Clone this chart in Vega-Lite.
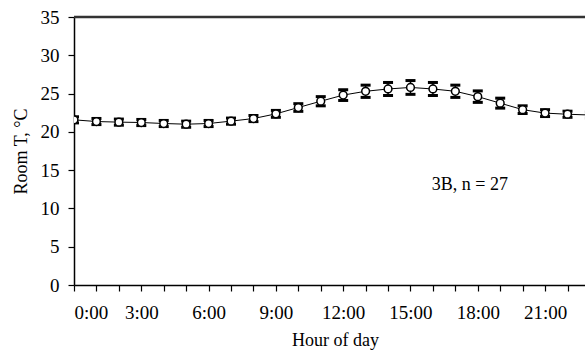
{
  "$schema": "https://vega.github.io/schema/vega-lite/v6.json",
  "autosize": {"type": "none"},
  "width": 511,
  "height": 268,
  "padding": {"left": 74, "top": 17, "right": 0, "bottom": 66},
  "background": "white",
  "config": {
    "view": {"stroke": null},
    "font": "Liberation Serif",
    "axis": {
      "labelFont": "Liberation Serif",
      "titleFont": "Liberation Serif",
      "labelFontSize": 19,
      "titleFontSize": 18,
      "titleFontWeight": "normal",
      "labelColor": "black",
      "titleColor": "black",
      "domainColor": "black",
      "tickColor": "black",
      "domainWidth": 1.5,
      "tickWidth": 1.2,
      "labelOverlap": false,
      "grid": false
    }
  },
  "datasets": {
    "series": [
      {"hour": 0, "temp": 21.57, "lo": 21.17, "hi": 21.97},
      {"hour": 1, "temp": 21.35, "lo": 20.95, "hi": 21.75},
      {"hour": 2, "temp": 21.27, "lo": 20.87, "hi": 21.67},
      {"hour": 3, "temp": 21.22, "lo": 20.82, "hi": 21.62},
      {"hour": 4, "temp": 21.09, "lo": 20.69, "hi": 21.49},
      {"hour": 5, "temp": 21.0, "lo": 20.6, "hi": 21.4},
      {"hour": 6, "temp": 21.09, "lo": 20.69, "hi": 21.49},
      {"hour": 7, "temp": 21.4, "lo": 21.0, "hi": 21.8},
      {"hour": 8, "temp": 21.74, "lo": 21.34, "hi": 22.14},
      {"hour": 9, "temp": 22.35, "lo": 21.9, "hi": 22.8},
      {"hour": 10, "temp": 23.18, "lo": 22.68, "hi": 23.68},
      {"hour": 11, "temp": 24.0, "lo": 23.4, "hi": 24.6},
      {"hour": 12, "temp": 24.8, "lo": 24.1, "hi": 25.5},
      {"hour": 13, "temp": 25.3, "lo": 24.5, "hi": 26.1},
      {"hour": 14, "temp": 25.6, "lo": 24.75, "hi": 26.45},
      {"hour": 15, "temp": 25.8, "lo": 24.9, "hi": 26.7},
      {"hour": 16, "temp": 25.6, "lo": 24.75, "hi": 26.45},
      {"hour": 17, "temp": 25.3, "lo": 24.5, "hi": 26.1},
      {"hour": 18, "temp": 24.6, "lo": 23.85, "hi": 25.35},
      {"hour": 19, "temp": 23.75, "lo": 23.1, "hi": 24.4},
      {"hour": 20, "temp": 22.9, "lo": 22.4, "hi": 23.4},
      {"hour": 21, "temp": 22.45, "lo": 22.0, "hi": 22.9},
      {"hour": 22, "temp": 22.3, "lo": 21.9, "hi": 22.7},
      {"hour": 23, "temp": 22.2, "lo": 21.8, "hi": 22.6}
    ],
    "note": [{"label": "3B, n = 27", "hour": 17.65, "temp": 13.1}]
  },
  "data": {"name": "series"},
  "layer": [
    {
      "mark": {"type": "line", "color": "black", "strokeWidth": 1, "clip": true},
      "encoding": {
        "x": {"field": "hour", "type": "quantitative", "scale": {"domain": [0, 22.78], "nice": false, "zero": false},
          "axis": {"orient": "bottom", "values": [0,1,2,3,4,5,6,7,8,9,10,11,12,13,14,15,16,17,18,19,20,21,22], "labelExpr": "datum.value % 3 == 0 ? datum.value + ':00' : ''", "labelFont": "Liberation Serif", "labelFontSize": 19, "titleFont": "Liberation Serif", "titleFontSize": 18, "tickSize": 6, "labelPadding": 12, "labelOverlap": false, "title": "Hour of day", "titleX": 261, "titleY": 60, "titleBaseline": "alphabetic"}},
        "y": {"field": "temp", "type": "quantitative", "scale": {"domain": [0, 35], "nice": false},
          "axis": {"values": [0, 5, 10, 15, 20, 25, 30, 35], "labelFont": "Liberation Serif", "labelFontSize": 19, "titleFont": "Liberation Serif", "titleFontSize": 18, "tickSize": 6, "labelPadding": 9, "labelOverlap": false, "title": "Room T, °C", "titlePadding": 10}}
      }
    },
    {
      "mark": {"type": "rule", "color": "black", "strokeWidth": 1.5, "clip": true},
      "encoding": {
        "x": {"field": "hour", "type": "quantitative", "scale": {"domain": [0, 22.78], "nice": false, "zero": false},
          "axis": {"orient": "bottom", "values": [0,1,2,3,4,5,6,7,8,9,10,11,12,13,14,15,16,17,18,19,20,21,22], "labelExpr": "datum.value % 3 == 0 ? datum.value + ':00' : ''", "labelFont": "Liberation Serif", "labelFontSize": 19, "titleFont": "Liberation Serif", "titleFontSize": 18, "tickSize": 6, "labelPadding": 12, "labelOverlap": false, "title": "Hour of day", "titleX": 261, "titleY": 60, "titleBaseline": "alphabetic"}},
        "y": {"field": "lo", "type": "quantitative", "scale": {"domain": [0, 35], "nice": false},
          "axis": {"values": [0, 5, 10, 15, 20, 25, 30, 35], "labelFont": "Liberation Serif", "labelFontSize": 19, "titleFont": "Liberation Serif", "titleFontSize": 18, "tickSize": 6, "labelPadding": 9, "labelOverlap": false, "title": "Room T, °C", "titlePadding": 10}},
        "y2": {"field": "hi"}
      }
    },
    {
      "mark": {"type": "tick", "color": "black", "orient": "horizontal", "size": 10, "thickness": 3, "opacity": 1, "clip": true},
      "encoding": {
        "x": {"field": "hour", "type": "quantitative", "scale": {"domain": [0, 22.78], "nice": false, "zero": false},
          "axis": {"orient": "bottom", "values": [0,1,2,3,4,5,6,7,8,9,10,11,12,13,14,15,16,17,18,19,20,21,22], "labelExpr": "datum.value % 3 == 0 ? datum.value + ':00' : ''", "labelFont": "Liberation Serif", "labelFontSize": 19, "titleFont": "Liberation Serif", "titleFontSize": 18, "tickSize": 6, "labelPadding": 12, "labelOverlap": false, "title": "Hour of day", "titleX": 261, "titleY": 60, "titleBaseline": "alphabetic"}},
        "y": {"field": "lo", "type": "quantitative", "scale": {"domain": [0, 35], "nice": false},
          "axis": {"values": [0, 5, 10, 15, 20, 25, 30, 35], "labelFont": "Liberation Serif", "labelFontSize": 19, "titleFont": "Liberation Serif", "titleFontSize": 18, "tickSize": 6, "labelPadding": 9, "labelOverlap": false, "title": "Room T, °C", "titlePadding": 10}}
      }
    },
    {
      "mark": {"type": "tick", "color": "black", "orient": "horizontal", "size": 10, "thickness": 3, "opacity": 1, "clip": true},
      "encoding": {
        "x": {"field": "hour", "type": "quantitative", "scale": {"domain": [0, 22.78], "nice": false, "zero": false},
          "axis": {"orient": "bottom", "values": [0,1,2,3,4,5,6,7,8,9,10,11,12,13,14,15,16,17,18,19,20,21,22], "labelExpr": "datum.value % 3 == 0 ? datum.value + ':00' : ''", "labelFont": "Liberation Serif", "labelFontSize": 19, "titleFont": "Liberation Serif", "titleFontSize": 18, "tickSize": 6, "labelPadding": 12, "labelOverlap": false, "title": "Hour of day", "titleX": 261, "titleY": 60, "titleBaseline": "alphabetic"}},
        "y": {"field": "hi", "type": "quantitative", "scale": {"domain": [0, 35], "nice": false},
          "axis": {"values": [0, 5, 10, 15, 20, 25, 30, 35], "labelFont": "Liberation Serif", "labelFontSize": 19, "titleFont": "Liberation Serif", "titleFontSize": 18, "tickSize": 6, "labelPadding": 9, "labelOverlap": false, "title": "Room T, °C", "titlePadding": 10}}
      }
    },
    {
      "mark": {"type": "point", "shape": "circle", "filled": true, "fill": "white", "stroke": "black", "strokeWidth": 1.5, "size": 60, "opacity": 1, "clip": true},
      "encoding": {
        "x": {"field": "hour", "type": "quantitative", "scale": {"domain": [0, 22.78], "nice": false, "zero": false},
          "axis": {"orient": "bottom", "values": [0,1,2,3,4,5,6,7,8,9,10,11,12,13,14,15,16,17,18,19,20,21,22], "labelExpr": "datum.value % 3 == 0 ? datum.value + ':00' : ''", "labelFont": "Liberation Serif", "labelFontSize": 19, "titleFont": "Liberation Serif", "titleFontSize": 18, "tickSize": 6, "labelPadding": 12, "labelOverlap": false, "title": "Hour of day", "titleX": 261, "titleY": 60, "titleBaseline": "alphabetic"}},
        "y": {"field": "temp", "type": "quantitative", "scale": {"domain": [0, 35], "nice": false},
          "axis": {"values": [0, 5, 10, 15, 20, 25, 30, 35], "labelFont": "Liberation Serif", "labelFontSize": 19, "titleFont": "Liberation Serif", "titleFontSize": 18, "tickSize": 6, "labelPadding": 9, "labelOverlap": false, "title": "Room T, °C", "titlePadding": 10}}
      }
    },
    {
      "data": {"values": [{"edge": 35}]},
      "mark": {"type": "rule", "color": "#333333", "strokeWidth": 2.5},
      "encoding": {
        "y": {"field": "edge", "type": "quantitative", "scale": {"domain": [0, 35], "nice": false},
          "axis": {"values": [0, 5, 10, 15, 20, 25, 30, 35], "labelFont": "Liberation Serif", "labelFontSize": 19, "titleFont": "Liberation Serif", "titleFontSize": 18, "tickSize": 6, "labelPadding": 9, "labelOverlap": false, "title": "Room T, °C", "titlePadding": 10}}
      }
    },
    {
      "data": {"name": "note"},
      "mark": {"type": "text", "font": "Liberation Serif", "fontSize": 18, "color": "black"},
      "encoding": {
        "x": {"field": "hour", "type": "quantitative", "scale": {"domain": [0, 22.78], "nice": false, "zero": false},
          "axis": {"orient": "bottom", "values": [0,1,2,3,4,5,6,7,8,9,10,11,12,13,14,15,16,17,18,19,20,21,22], "labelExpr": "datum.value % 3 == 0 ? datum.value + ':00' : ''", "labelFont": "Liberation Serif", "labelFontSize": 19, "titleFont": "Liberation Serif", "titleFontSize": 18, "tickSize": 6, "labelPadding": 12, "labelOverlap": false, "title": "Hour of day", "titleX": 261, "titleY": 60, "titleBaseline": "alphabetic"}},
        "y": {"field": "temp", "type": "quantitative", "scale": {"domain": [0, 35], "nice": false},
          "axis": {"values": [0, 5, 10, 15, 20, 25, 30, 35], "labelFont": "Liberation Serif", "labelFontSize": 19, "titleFont": "Liberation Serif", "titleFontSize": 18, "tickSize": 6, "labelPadding": 9, "labelOverlap": false, "title": "Room T, °C", "titlePadding": 10}},
        "text": {"field": "label"}
      }
    }
  ]
}
